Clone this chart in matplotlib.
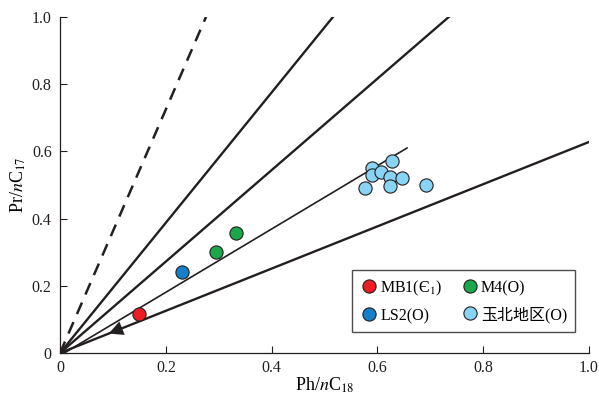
import matplotlib
matplotlib.use("Agg")
import matplotlib.pyplot as plt

plt.rcParams['font.family'] = ['Liberation Serif', 'Noto Sans CJK SC', 'DejaVu Sans']
plt.rcParams['mathtext.fontset'] = 'stix'

# Data
mb1_x = [0.149]; mb1_y = [0.116]
m4_x = [0.295, 0.333]; m4_y = [0.301, 0.357]
ls2_x = [0.231]; ls2_y = [0.241]
yb_x = [0.590, 0.590, 0.607, 0.627, 0.624, 0.624, 0.646, 0.692, 0.577]
yb_y = [0.551, 0.530, 0.539, 0.571, 0.524, 0.497, 0.521, 0.500, 0.491]

# reference lines through origin (end points)
dashed_end = (0.276, 1.0)
thick_ends = [(0.516, 1.0), (0.735, 1.0), (1.0, 0.628)]
thin_line = ([0.008, 0.656], [0.0, 0.610])
arrow_tip = (0.092, 0.058)
arrow_tail = (0.124, 0.078)

ticks = [0, 0.2, 0.4, 0.6, 0.8, 1.0]
tick_labels = ['0', '0.2', '0.4', '0.6', '0.8', '1.0']

fig = plt.figure(figsize=(5.99, 3.94), dpi=100)
ax = fig.add_axes([0.1002, 0.104, 0.8831, 0.853])

ax.plot([0, dashed_end[0]], [0, dashed_end[1]], color='#231f20', lw=1.8,
        dashes=(5, 3.5), solid_capstyle='butt')
for ex, ey in thick_ends:
    ax.plot([0, ex], [0, ey], color='#231f20', lw=1.7)
ax.plot(thin_line[0], thin_line[1], color='#231f20', lw=1.2)
ax.annotate('', xy=arrow_tip, xytext=arrow_tail,
            arrowprops=dict(arrowstyle='-|>,head_length=0.6,head_width=0.3',
                            color='#231f20', lw=0.1,
                            mutation_scale=17, shrinkA=0, shrinkB=0))

ms = 9.5
kw = dict(ls='none', marker='o', ms=ms, mec='#231f20', mew=0.8, zorder=5)
h1, = ax.plot(mb1_x, mb1_y, mfc='#ec1c24', label='MB1(Є$_1$)', **kw)
h2, = ax.plot(m4_x, m4_y, mfc='#1aa84b', label='M4(O)', **kw)
h3, = ax.plot(ls2_x, ls2_y, mfc='#1580c8', label='LS2(O)', **kw)
h4, = ax.plot(yb_x, yb_y, mfc='#88d4f5', label='玉北地区(O)', **kw)

ax.set_xlim(0, 1.0)
ax.set_ylim(0, 1.0)
ax.set_xticks(ticks)
ax.set_xticklabels(tick_labels)
ax.set_yticks(ticks)
ax.set_yticklabels(tick_labels)
ax.tick_params(direction='in', length=5, width=0.8, labelsize=11.5, colors='#231f20')
ax.tick_params(axis='x', pad=5)
ax.tick_params(axis='y', pad=6)
for s in ['top', 'right']:
    ax.spines[s].set_visible(False)
for s in ['left', 'bottom']:
    ax.spines[s].set_linewidth(0.9)
    ax.spines[s].set_color('#231f20')

ax.set_xlabel(r'Ph/$n$C$_{18}$', fontsize=13, labelpad=0)
ax.set_ylabel(r'Pr/$n$C$_{17}$', fontsize=13, labelpad=3)

leg = ax.legend(handles=[h1, h3, h2, h4], ncol=2, loc='lower right',
                bbox_to_anchor=(0.9735, 0.0625), borderaxespad=0,
                fontsize=11.5, frameon=True,
                fancybox=False, edgecolor='#231f20', handletextpad=0.1,
                columnspacing=1.1, borderpad=0.5, labelspacing=0.65,
                handlelength=1.2)
leg.get_frame().set_linewidth(1.0)

fig.savefig('out.png', dpi=100)
